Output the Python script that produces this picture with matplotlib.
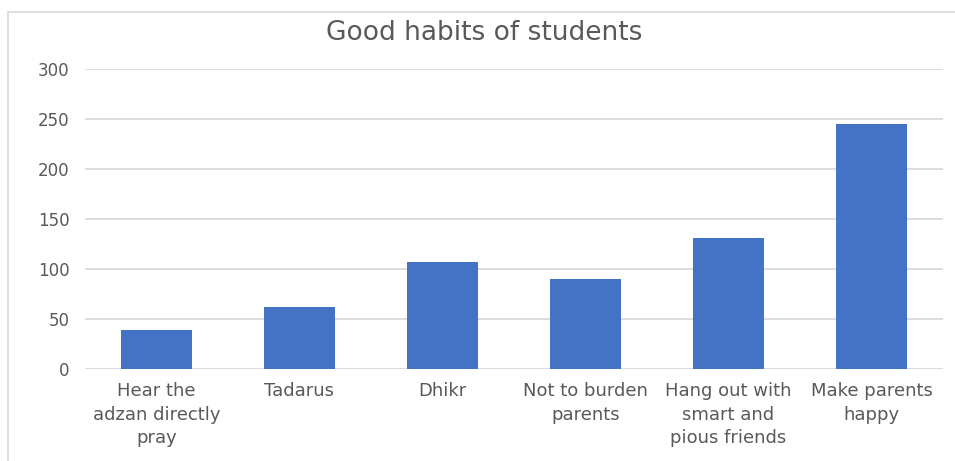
import matplotlib
matplotlib.use('Agg')
import matplotlib.pyplot as plt
from matplotlib.patches import Rectangle

categories = ['Hear the\nadzan directly\npray', 'Tadarus', 'Dhikr',
              'Not to burden\nparents', 'Hang out with\nsmart and\npious friends',
              'Make parents\nhappy']
values = [39, 62, 107, 90, 131, 245]
y_ticks = [0, 50, 100, 150, 200, 250, 300]

plt.rcParams['font.family'] = ['DejaVu Sans']
text_color = '#595959'

fig = plt.figure(figsize=(9.55, 4.61), dpi=100)
ax = fig.add_axes([85 / 955, 1 - 369 / 461, (943 - 85) / 955, 300 / 461])

# chart border, like excel's chart area outline
fig.patches.append(Rectangle((8 / 955, -0.1), 1.2, 1 - 12 / 461 + 0.1, transform=fig.transFigure,
                             fill=False, edgecolor='#D9D9D9', linewidth=1.2))

x = range(len(categories))
ax.bar(x, values, width=0.5, color='#4472C4', zorder=3)

ax.set_xlim(-0.5, len(categories) - 0.5)
ax.set_ylim(0, 300)
ax.set_yticks(y_ticks)
ax.set_xticks(list(x))
ax.set_xticklabels(categories, fontsize=13, color=text_color, linespacing=1.4)
ax.tick_params(axis='y', labelsize=12, labelcolor=text_color, length=0, pad=11)
ax.tick_params(axis='x', length=0, pad=9.5)
ax.grid(axis='y', color='#D9D9D9', linewidth=1.3, zorder=0)
for s in ax.spines.values():
    s.set_visible(False)

fig.text(484 / 955, 1 - 40 / 461, 'Good habits of students', ha='center', va='baseline',
         fontsize=19, color=text_color)

fig.savefig('out.png', dpi=100)
